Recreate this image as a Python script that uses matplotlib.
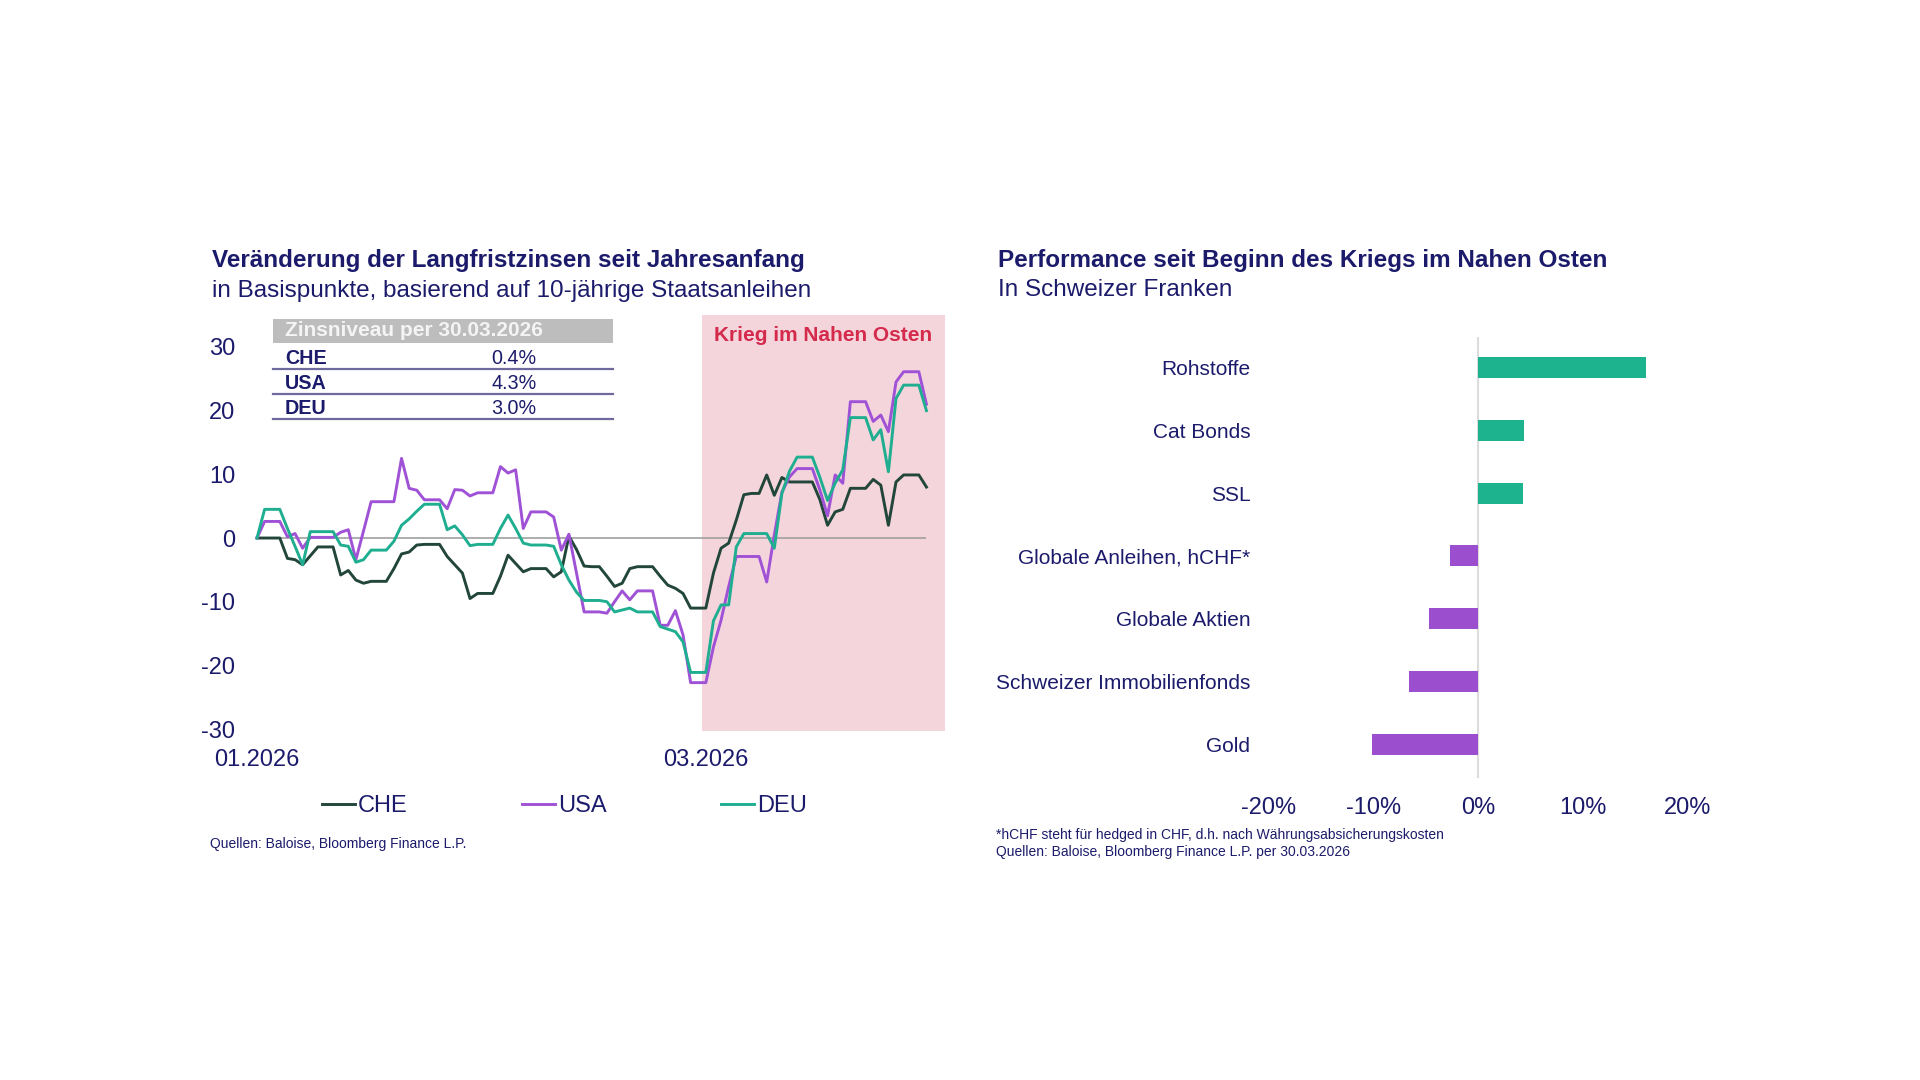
import matplotlib
matplotlib.use("Agg")
import matplotlib.pyplot as plt
import pandas as pd
from matplotlib.lines import Line2D
from matplotlib.patches import Rectangle

plt.rcParams["font.family"] = ["Liberation Sans", "DejaVu Sans"]
plt.rcParams["axes.unicode_minus"] = False

# ─── Colours ────────────────────────────────────────────────────────────────
NAVY = "#1c1b6b"
C_CHE = "#22463a"
C_USA = "#a052d6"
C_DEU = "#1fae90"
BAR_POS = "#1db38e"
BAR_NEG = "#9b4fcf"
WAR_PINK = "#f5d5dc"
WAR_RED = "#d42a4c"

# ─── Data: left panel (bp change since 01.01.2026, daily incl. weekends) ────
DATES = pd.date_range("2026-01-01", "2026-03-30", freq="D")
CHE = [0, 0, 0, 0, -3.2, -3.4, -4.2, -2.8, -1.4, -1.4,
       -1.4, -5.8, -5.1, -6.6, -7.1, -6.8, -6.8, -6.8, -4.8, -2.5,
       -2.2, -1.1, -1.0, -1.0, -1.0, -2.9, -4.2, -5.5, -9.5, -8.7,
       -8.7, -8.7, -6.0, -2.7, -4.0, -5.3, -4.8, -4.8, -4.8, -6.1,
       -5.3, 0.3, -1.8, -4.4, -4.5, -4.5, -6.0, -7.6, -7.1, -4.8,
       -4.5, -4.5, -4.5, -6.0, -7.4, -7.9, -8.7, -11.0, -11.0, -11.0,
       -5.5, -1.6, -0.8, 2.8, 6.8, 7.0, 7.0, 9.9, 6.7, 9.5,
       8.8, 8.8, 8.8, 8.8, 6.0, 2.0, 4.1, 4.5, 7.8, 7.8,
       7.8, 9.2, 8.3, 2.0, 8.8, 9.9, 9.9, 9.9, 8.0]
USA = [0, 2.6, 2.6, 2.6, 0.2, 0.7, -1.6, 0.1, 0.1, 0.1,
       0.1, 0.9, 1.3, -3.4, 1.1, 5.7, 5.7, 5.7, 5.7, 12.5,
       7.8, 7.5, 6.0, 6.0, 6.0, 4.6, 7.6, 7.5, 6.6, 7.1,
       7.1, 7.1, 11.2, 10.2, 10.7, 1.5, 4.1, 4.1, 4.1, 3.3,
       -1.9, 0.6, -5.5, -11.6, -11.6, -11.6, -11.8, -10.0, -8.3, -9.7,
       -8.3, -8.3, -8.3, -13.7, -13.7, -11.4, -15.2, -22.7, -22.7, -22.7,
       -17.1, -12.9, -7.6, -2.9, -2.9, -2.9, -2.9, -6.9, 0.5, 7.2,
       9.6, 10.9, 10.9, 10.9, 7.5, 3.5, 9.9, 8.6, 21.4, 21.4,
       21.4, 18.3, 19.3, 16.7, 24.5, 26.1, 26.1, 26.1, 21.0]
DEU = [0, 4.5, 4.5, 4.5, 1.5, -1.3, -4.2, 1.0, 1.0, 1.0,
       1.0, -1.1, -1.3, -3.8, -3.4, -1.9, -1.9, -1.9, -0.5, 2.0,
       3.0, 4.2, 5.3, 5.3, 5.3, 1.3, 1.9, 0.5, -1.2, -1.0,
       -1.0, -1.0, 1.5, 3.6, 1.5, -0.8, -1.1, -1.1, -1.1, -1.3,
       -4.2, -6.6, -8.5, -9.8, -9.8, -9.8, -10.0, -11.6, -11.3, -11.0,
       -11.6, -11.6, -11.6, -13.9, -14.3, -14.7, -16.3, -21.1, -21.1, -21.1,
       -13.0, -10.5, -10.5, -1.4, 0.7, 0.7, 0.7, 0.7, -1.6, 7.0,
       10.5, 12.7, 12.7, 12.7, 9.5, 5.9, 8.6, 10.7, 18.9, 18.9,
       18.9, 15.4, 17.0, 10.4, 21.9, 24.0, 24.0, 24.0, 20.0]
WAR_START = pd.Timestamp("2026-02-28 12:00")

TABLE_COUNTRIES = ["CHE", "USA", "DEU"]
TABLE_RATES = ["0.4%", "4.3%", "3.0%"]

# ─── Data: right panel (performance in CHF, %) ──────────────────────────────
CATEGORIES = ["Rohstoffe", "Cat Bonds", "SSL", "Globale Anleihen, hCHF*",
              "Globale Aktien", "Schweizer Immobilienfonds", "Gold"]
PERFORMANCE = [16.1, 4.4, 4.3, -2.7, -4.7, -6.6, -10.1]

W, H = 1920, 1080


def fx(px):
    return px / W


def fy(py):
    return 1 - py / H


fig = plt.figure(figsize=(19.2, 10.8), dpi=100)
fig.patch.set_facecolor("white")

# ─── Left panel ─────────────────────────────────────────────────────────────
ax = fig.add_axes([0.1327, 0.3231, 0.3594, 0.3852])
x_left = pd.Timestamp("2025-12-31 17:00")
x_right = pd.Timestamp("2026-04-01 10:00")
ax.set_xlim(x_left, x_right)
ax.set_ylim(-30.3, 35.0)

ax.axvspan(WAR_START, x_right, color=WAR_PINK, lw=0, zorder=0)
ax.hlines(0, DATES[0], DATES[-1], color="#a0a0a0", lw=1.2, zorder=1)

ax.plot(DATES, CHE, color=C_CHE, lw=2.1, label="CHE", zorder=3)
ax.plot(DATES, USA, color=C_USA, lw=2.1, label="USA", zorder=3)
ax.plot(DATES, DEU, color=C_DEU, lw=2.1, label="DEU", zorder=3)

ax.set_yticks([-30, -20, -10, 0, 10, 20, 30])
ax.set_yticklabels([str(v) for v in [-30, -20, -10, 0, 10, 20, 30]])
ax.set_xticks([pd.Timestamp("2026-01-01"), pd.Timestamp("2026-03-01")])
ax.set_xticklabels(["01.2026", "03.2026"])
ax.tick_params(axis="y", length=0, pad=14, labelsize=17, labelcolor=NAVY)
ax.tick_params(axis="x", length=0, pad=13, labelsize=17, labelcolor=NAVY)
for s in ax.spines.values():
    s.set_visible(False)

mid_war = WAR_START + (x_right - WAR_START) / 2
ax.text(mid_war, 31.8, "Krieg im Nahen Osten", color=WAR_RED,
        fontsize=15, fontweight="bold", ha="center", va="center")

# rate table
fig.add_artist(Rectangle((fx(272.7), fy(343)), fx(340.3), 24 / H,
                         transform=fig.transFigure, color="#bdbdbd", lw=0))
fig.text(fx(285), fy(331), "Zinsniveau per 30.03.2026", color="#f4f4f4",
         fontsize=15, fontweight="bold", va="center")
row_y = [358.5, 383.5, 408.5]
line_y = [369.3, 394.0, 419.0]
for name, rate, ty, ly in zip(TABLE_COUNTRIES, TABLE_RATES, row_y, line_y):
    fig.text(fx(285), fy(ty), name, color=NAVY, fontsize=14.2,
             fontweight="bold", va="center")
    fig.text(fx(514), fy(ty), rate, color=NAVY, fontsize=14.2,
             ha="center", va="center")
    fig.add_artist(Line2D([fx(272.7), fx(613)], [fy(ly), fy(ly)],
                          color="#6e6a9e", lw=1.6, transform=fig.transFigure))

handles = [Line2D([], [], color=c, lw=2.1) for c in (C_CHE, C_USA, C_DEU)]
fig.legend(handles, ["CHE", "USA", "DEU"], loc="center left",
           bbox_to_anchor=(fx(322), fy(806)), ncol=3, frameon=False,
           fontsize=17, labelcolor=NAVY, handlelength=1.4, handletextpad=0.12,
           columnspacing=4.85, borderpad=0, borderaxespad=0)

fig.text(fx(212), fy(260.5), "Veränderung der Langfristzinsen seit Jahresanfang",
         color=NAVY, fontsize=17.5, fontweight="bold", va="center")
fig.text(fx(212), fy(290.5), "in Basispunkte, basierend auf 10-jährige Staatsanleihen",
         color=NAVY, fontsize=17.5, va="center")
fig.text(fx(210), fy(844), "Quellen: Baloise, Bloomberg Finance L.P.",
         color=NAVY, fontsize=10, va="center")

# ─── Right panel ────────────────────────────────────────────────────────────
ax2 = fig.add_axes([0.6607, 0.2796, 0.2181, 0.4083])
ypos = list(range(len(CATEGORIES)))
colors = [BAR_POS if v > 0 else BAR_NEG for v in PERFORMANCE]
ax2.axvline(0, color="#dcdcdc", lw=1.5, zorder=0)
ax2.barh(ypos, PERFORMANCE, height=0.334, color=colors, zorder=2)
ax2.set_xlim(-20, 20)
ax2.set_ylim(6.53, -0.48)
ax2.set_yticks(ypos)
ax2.set_yticklabels(CATEGORIES)
ax2.set_xticks([-20, -10, 0, 10, 20])
ax2.set_xticklabels([f"{v}%" for v in [-20, -10, 0, 10, 20]])
ax2.tick_params(axis="y", length=0, pad=13, labelsize=15, labelcolor=NAVY)
ax2.tick_params(axis="x", length=0, pad=14, labelsize=17, labelcolor=NAVY)
for s in ax2.spines.values():
    s.set_visible(False)

fig.text(fx(998), fy(260.5), "Performance seit Beginn des Kriegs im Nahen Osten",
         color=NAVY, fontsize=17.5, fontweight="bold", va="center")
fig.text(fx(998), fy(290.5), "In Schweizer Franken",
         color=NAVY, fontsize=17.5, va="center")
fig.text(fx(996), fy(835),
         "*hCHF steht für hedged in CHF, d.h. nach Währungsabsicherungskosten",
         color=NAVY, fontsize=10, va="center")
fig.text(fx(996), fy(852), "Quellen: Baloise, Bloomberg Finance L.P. per 30.03.2026",
         color=NAVY, fontsize=10, va="center")

fig.savefig("out.png", dpi=100, facecolor="white")
